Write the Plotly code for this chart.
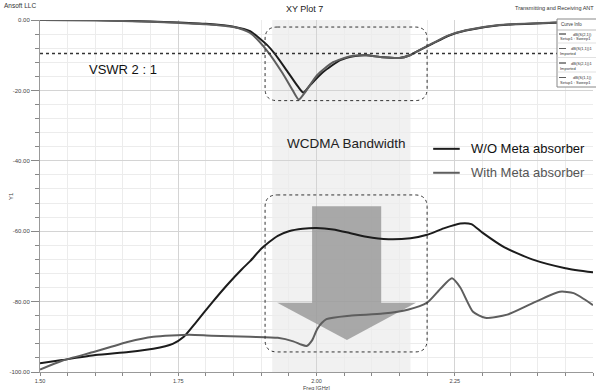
import plotly.graph_objects as go

# ---------------- data ----------------
s11_wo_f = [1.50, 1.60, 1.70, 1.75, 1.80, 1.85, 1.88, 1.91, 1.924, 1.946, 1.966, 1.976, 1.988, 2.012, 2.043, 2.07, 2.09, 2.12, 2.15, 2.169, 2.182, 2.21, 2.24, 2.27, 2.33, 2.43, 2.50]
s11_wo = [0.0, -0.1, -0.4, -0.7, -1.1, -1.9, -3.2, -7.0, -9.5, -14.3, -18.8, -20.6, -18.6, -14.8, -11.4, -10.2, -10.0, -10.6, -10.8, -10.0, -8.9, -6.7, -4.4, -3.0, -1.5, -0.8, -0.5]

s11_w_f = [1.50, 1.60, 1.70, 1.75, 1.80, 1.85, 1.88, 1.91, 1.939, 1.957, 1.968, 1.979, 2.001, 2.030, 2.061, 2.09, 2.12, 2.15, 2.169, 2.182, 2.21, 2.24, 2.27, 2.33, 2.43, 2.50]
s11_w = [0.0, -0.1, -0.5, -0.8, -1.2, -2.0, -3.7, -8.6, -15.2, -20.0, -22.6, -20.6, -15.7, -12.0, -10.3, -10.0, -10.6, -10.8, -10.0, -8.9, -6.6, -4.3, -2.9, -1.4, -0.7, -0.4]

s21_wo_f = [1.50, 1.54, 1.60, 1.66, 1.705, 1.74, 1.76, 1.78, 1.81, 1.84, 1.865, 1.88, 1.90, 1.915, 1.93, 1.95, 1.975, 2.00, 2.03, 2.06, 2.09, 2.13, 2.17, 2.20, 2.23, 2.26, 2.28, 2.30, 2.34, 2.39, 2.45, 2.50]
s21_wo = [-97.5, -96.6, -95.2, -94.3, -93.4, -92.0, -90.0, -86.3, -80.5, -75.0, -70.8, -68.5, -65.0, -63.0, -61.3, -60.0, -59.3, -59.1, -59.5, -60.5, -61.6, -62.3, -62.0, -61.0, -59.2, -57.8, -58.0, -60.4, -64.6, -68.0, -70.5, -71.7]

s21_w_f = [1.50, 1.54, 1.60, 1.66, 1.705, 1.77, 1.81, 1.88, 1.93, 1.958, 1.972, 1.982, 1.992, 2.002, 2.018, 2.06, 2.12, 2.165, 2.20, 2.225, 2.245, 2.26, 2.283, 2.305, 2.345, 2.39, 2.44, 2.465, 2.50]
s21_w = [-99.3, -96.8, -94.2, -91.4, -90.0, -89.4, -89.7, -90.0, -90.3, -91.3, -92.2, -92.6, -91.0, -87.6, -85.0, -84.0, -83.4, -82.3, -80.3, -76.2, -73.4, -76.0, -82.9, -84.6, -83.7, -80.5, -77.2, -77.6, -81.0]

vswr_level = -9.54
band = [1.92, 2.17]
x_ticks = [1.50, 1.75, 2.00, 2.25, 2.50]
y_ticks = [0, -20, -40, -60, -80, -100]
legend_names = ["dB(S(2,1))", "dB(S(1,1))1", "dB(S(2,1))1", "dB(S(1,1))"]
legend_subs = ["Setup1 : Sweep1", "Imported", "Imported", "Setup1 : Sweep1"]

BLACK = "#1c1c1c"
GRAY = "#5e5e5e"
FONT = "Liberation Sans, Arial, sans-serif"

fig = go.Figure()
lw = 2
sm = 0.6
fig.add_trace(go.Scatter(x=s11_wo_f, y=s11_wo, mode="lines", line=dict(color=BLACK, width=lw, shape="spline", smoothing=sm), showlegend=False))
fig.add_trace(go.Scatter(x=s11_w_f, y=s11_w, mode="lines", line=dict(color=GRAY, width=lw, shape="spline", smoothing=sm), showlegend=False))
fig.add_trace(go.Scatter(x=s21_wo_f, y=s21_wo, mode="lines", line=dict(color=BLACK, width=lw, shape="spline", smoothing=sm), showlegend=False))
fig.add_trace(go.Scatter(x=s21_w_f, y=s21_w, mode="lines", line=dict(color=GRAY, width=lw, shape="spline", smoothing=sm), showlegend=False))


def rounded_rect(x0, x1, y0, y1, rx, ry):
    return (f"M {x0+rx},{y1} L {x1-rx},{y1} Q {x1},{y1} {x1},{y1-ry} "
            f"L {x1},{y0+ry} Q {x1},{y0} {x1-rx},{y0} L {x0+rx},{y0} "
            f"Q {x0},{y0} {x0},{y0+ry} L {x0},{y1-ry} Q {x0},{y1} {x0+rx},{y1} Z")

shapes = []
# WCDMA band shading
shapes.append(dict(type="rect", xref="x", yref="y", x0=band[0], x1=band[1], y0=-100, y1=0,
                   fillcolor="#f1f1f1", line=dict(width=0), layer="below"))
# Arrow (shaft + head)
shapes.append(dict(type="path", xref="x", yref="y",
                   path="M 1.992,-52.9 L 2.117,-52.9 L 2.117,-80.3 L 2.180,-80.3 L 2.055,-90.9 L 1.929,-80.3 L 1.992,-80.3 Z",
                   fillcolor="rgba(150,150,150,0.8)", line=dict(width=0), layer="between"))
# VSWR line
shapes.append(dict(type="line", xref="paper", yref="y", x0=0, x1=1, y0=vswr_level, y1=vswr_level,
                   line=dict(color="#333333", width=1.5, dash="dot")))
# dotted rounded boxes
shapes.append(dict(type="path", xref="x", yref="y",
                   path=rounded_rect(1.907, 2.200, -22.9, -2.0, 0.022, 3.4),
                   line=dict(color="#333333", width=1, dash="dot")))
shapes.append(dict(type="path", xref="x", yref="y",
                   path=rounded_rect(1.907, 2.200, -94.3, -49.7, 0.022, 3.4),
                   line=dict(color="#333333", width=1, dash="dot")))
# custom legend lines
shapes.append(dict(type="line", xref="x", yref="y", x0=2.211, x1=2.259, y0=-36.6, y1=-36.6,
                   line=dict(color=BLACK, width=2)))
shapes.append(dict(type="line", xref="x", yref="y", x0=2.211, x1=2.259, y0=-43.4, y1=-43.4,
                   line=dict(color=GRAY, width=2)))

# Curve Info box (pixel -> paper)
W, H = 596, 390
L, R, T, B = 40, 3, 20, 18
pw, ph = W - L - R, H - T - B


def px(x):
    return (x - L) / pw


def py(y):
    return (H - B - y) / ph


shapes.append(dict(type="rect", xref="paper", yref="paper", x0=px(557), x1=px(600), y0=py(87), y1=py(19),
                   fillcolor="white", line=dict(color="#888888", width=1)))
shapes.append(dict(type="line", xref="paper", yref="paper", x0=px(557), x1=px(600), y0=py(30), y1=py(30),
                   line=dict(color="#aaaaaa", width=0.8)))

annotations = []
annotations.append(dict(xref="paper", yref="paper", x=px(571), y=py(25), text="Curve Info", showarrow=False,
                        font=dict(size=4.5, color="#333", family=FONT), xanchor="center", yanchor="middle"))
line_colors = [BLACK, GRAY, BLACK, GRAY]
for i, (n, s) in enumerate(zip(legend_names, legend_subs)):
    y1 = 34 + 14.5 * i
    shapes.append(dict(type="line", xref="paper", yref="paper", x0=px(559), x1=px(566), y0=py(y1), y1=py(y1),
                       line=dict(color=line_colors[i], width=1)))
    annotations.append(dict(xref="paper", yref="paper", x=px(594), y=py(y1), text=n, showarrow=False,
                            font=dict(size=4, color="#333", family=FONT), xanchor="right", yanchor="middle"))
    annotations.append(dict(xref="paper", yref="paper", x=px(558), y=py(y1 + 5), text=s, showarrow=False,
                            font=dict(size=4, color="#333", family=FONT), xanchor="left", yanchor="middle"))
    if i < 3:
        shapes.append(dict(type="line", xref="paper", yref="paper", x0=px(557), x1=px(600),
                           y0=py(y1 + 9), y1=py(y1 + 9), line=dict(color="#cccccc", width=0.6)))

# texts
annotations += [
    dict(xref="paper", yref="paper", x=px(2), y=py(6), text="Ansoft LLC", showarrow=False,
         font=dict(size=6.5, color="#333", family=FONT), xanchor="left", yanchor="middle"),
    dict(xref="paper", yref="paper", x=px(304), y=py(9), text="XY Plot 7", showarrow=False,
         font=dict(size=9, color="#222", family=FONT), xanchor="center", yanchor="middle"),
    dict(xref="paper", yref="paper", x=px(596), y=py(8), text="Transmitting and Receiving ANT", showarrow=False,
         font=dict(size=5.5, color="#333", family=FONT), xanchor="right", yanchor="middle"),
    dict(xref="paper", yref="paper", x=px(316), y=py(387.5), text="Freq [GHz]", showarrow=False,
         font=dict(size=5.5, color="#444", family=FONT), xanchor="center", yanchor="middle"),
    dict(xref="paper", yref="paper", x=px(11), y=py(196), text="Y1", showarrow=False, textangle=-90,
         font=dict(size=6, color="#444", family=FONT), xanchor="center", yanchor="middle"),
    dict(xref="x", yref="y", x=1.650, y=-14.0, text="VSWR 2 : 1", showarrow=False,
         font=dict(size=13, color="#111", family=FONT), xanchor="center", yanchor="middle"),
    dict(xref="x", yref="y", x=2.055, y=-35.1, text="WCDMA Bandwidth", showarrow=False,
         font=dict(size=13.5, color="#222", family=FONT), xanchor="center", yanchor="middle"),
    dict(xref="x", yref="y", x=2.276, y=-36.6, text="W/O Meta absorber", showarrow=False,
         font=dict(size=13, color="#111", family=FONT), xanchor="left", yanchor="middle"),
    dict(xref="x", yref="y", x=2.276, y=-43.4, text="With Meta absorber", showarrow=False,
         font=dict(size=13, color="#555", family=FONT), xanchor="left", yanchor="middle"),
]

fig.update_layout(
    width=W, height=H,
    margin=dict(l=L, r=R, t=T, b=B, pad=0, autoexpand=False),
    paper_bgcolor="white", plot_bgcolor="white",
    font=dict(family=FONT, size=6, color="#444"),
    shapes=shapes, annotations=annotations,
    showlegend=False,
)
fig.update_xaxes(
    range=[1.5, 2.5], tickvals=x_ticks, ticktext=[f"{v:.2f}" for v in x_ticks],
    showgrid=True, gridcolor="#d4d4d4", gridwidth=1, automargin=False,
    minor=dict(dtick=0.05, tick0=1.5, showgrid=True, gridcolor="#ececec", ticks="outside", ticklen=3, tickcolor="#888"),
    ticks="outside", ticklen=3, tickcolor="#888",
    showline=True, linecolor="#999", linewidth=1, zeroline=False,
    tickfont=dict(size=5.5, color="#444"),
)
fig.update_yaxes(
    range=[-100, 0], tickvals=y_ticks, ticktext=[f"{v:.2f}" for v in y_ticks],
    showgrid=True, gridcolor="#d4d4d4", gridwidth=1, automargin=False,
    minor=dict(dtick=4, tick0=0, showgrid=True, gridcolor="#ececec", ticks="outside", ticklen=4, tickcolor="#888"),
    ticks="outside", ticklen=8, tickcolor="#888",
    showline=True, linecolor="#999", linewidth=1, zeroline=False,
    tickfont=dict(size=6, color="#444"),
)

fig.write_html("out.html", config={"displayModeBar": False},
               post_script="document.body.style.margin='0';document.body.style.padding='0';")
